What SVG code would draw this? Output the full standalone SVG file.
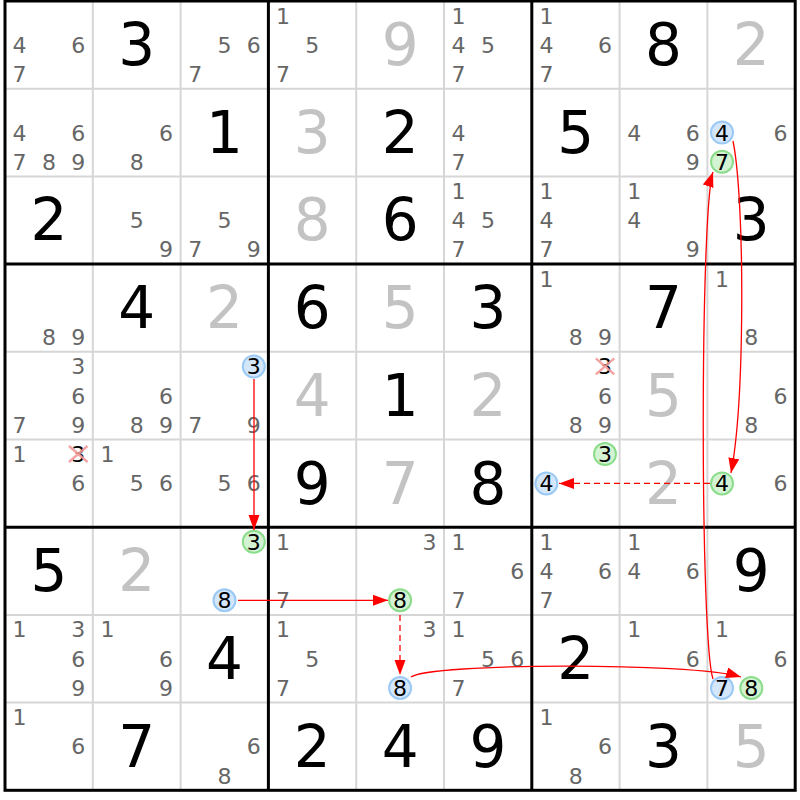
<svg xmlns="http://www.w3.org/2000/svg" width="800" height="800" viewBox="0 0 800 800">
<defs>
<style>
text{font-family:"DejaVu Sans","Liberation Sans",sans-serif;text-anchor:middle}
.g{font-size:58px;fill:#000}
.s{font-size:58px;fill:#c3c3c3}
.c{font-size:22px;fill:#666}
.k{font-size:22px;fill:#000}
.thin{stroke:#d6d6d6;stroke-width:2}
.thick{stroke:#000;stroke-width:3}
.hb{fill:#d4e6fa;stroke:#9ac9f5;stroke-width:2}
.hg{fill:#d3f3d3;stroke:#8bdc8b;stroke-width:2}
.x{stroke:#f29a9a;stroke-width:2.4;opacity:0.9}
.a{fill:none;stroke:#ff0000;stroke-width:1.3}
.d{stroke-dasharray:6,4}
</style>
<marker id="ah" markerUnits="userSpaceOnUse" markerWidth="16" markerHeight="12" refX="15" refY="5.5" orient="auto">
<path d="M0,0 L15,5.5 L0,11 z" fill="#ff0000"/>
</marker>
</defs>
<rect x="0" y="0" width="800" height="800" fill="#fff"/>
<g id="grid">
<g class="thin">
<line x1="92.8" y1="1" x2="92.8" y2="790.3"/><line x1="180.6" y1="1" x2="180.6" y2="790.3"/>
<line x1="356.2" y1="1" x2="356.2" y2="790.3"/><line x1="444" y1="1" x2="444" y2="790.3"/>
<line x1="619.6" y1="1" x2="619.6" y2="790.3"/><line x1="707.4" y1="1" x2="707.4" y2="790.3"/>
<line x1="5" y1="88.7" x2="795.2" y2="88.7"/><line x1="5" y1="176.4" x2="795.2" y2="176.4"/>
<line x1="5" y1="351.8" x2="795.2" y2="351.8"/><line x1="5" y1="439.5" x2="795.2" y2="439.5"/>
<line x1="5" y1="614.9" x2="795.2" y2="614.9"/><line x1="5" y1="702.6" x2="795.2" y2="702.6"/>
</g>
<g class="thick">
<line x1="268.4" y1="1" x2="268.4" y2="790.3"/><line x1="531.8" y1="1" x2="531.8" y2="790.3"/>
<line x1="5" y1="264.1" x2="795.2" y2="264.1"/><line x1="5" y1="527.2" x2="795.2" y2="527.2"/>
<rect x="5" y="1" width="790.2" height="789.3" fill="none"/>
</g>
</g>
<g id="cells">
<g id="r0c0" transform="translate(5,1)"><text class="c" x="14.6" y="51.9">4</text><text class="c" x="73.2" y="51.9">6</text><text class="c" x="14.6" y="81.1">7</text></g>
<g id="r0c1" transform="translate(92.8,1)"><text class="g" x="43.9" y="64">3</text></g>
<g id="r0c2" transform="translate(180.6,1)"><text class="c" x="43.9" y="51.9">5</text><text class="c" x="73.2" y="51.9">6</text><text class="c" x="14.6" y="81.1">7</text></g>
<g id="r0c3" transform="translate(268.4,1)"><text class="c" x="14.6" y="22.6">1</text><text class="c" x="43.9" y="51.9">5</text><text class="c" x="14.6" y="81.1">7</text></g>
<g id="r0c4" transform="translate(356.2,1)"><text class="s" x="43.9" y="64">9</text></g>
<g id="r0c5" transform="translate(444,1)"><text class="c" x="14.6" y="22.6">1</text><text class="c" x="14.6" y="51.9">4</text><text class="c" x="43.9" y="51.9">5</text><text class="c" x="14.6" y="81.1">7</text></g>
<g id="r0c6" transform="translate(531.8,1)"><text class="c" x="14.6" y="22.6">1</text><text class="c" x="14.6" y="51.9">4</text><text class="c" x="73.2" y="51.9">6</text><text class="c" x="14.6" y="81.1">7</text></g>
<g id="r0c7" transform="translate(619.6,1)"><text class="g" x="43.9" y="64">8</text></g>
<g id="r0c8" transform="translate(707.4,1)"><text class="s" x="43.9" y="64">2</text></g>

<g id="r1c0" transform="translate(5,88.7)"><text class="c" x="14.6" y="51.9">4</text><text class="c" x="73.2" y="51.9">6</text><text class="c" x="14.6" y="81.1">7</text><text class="c" x="43.9" y="81.1">8</text><text class="c" x="73.2" y="81.1">9</text></g>
<g id="r1c1" transform="translate(92.8,88.7)"><text class="c" x="73.2" y="51.9">6</text><text class="c" x="43.9" y="81.1">8</text></g>
<g id="r1c2" transform="translate(180.6,88.7)"><text class="g" x="43.9" y="64">1</text></g>
<g id="r1c3" transform="translate(268.4,88.7)"><text class="s" x="43.9" y="64">3</text></g>
<g id="r1c4" transform="translate(356.2,88.7)"><text class="g" x="43.9" y="64">2</text></g>
<g id="r1c5" transform="translate(444,88.7)"><text class="c" x="14.6" y="51.9">4</text><text class="c" x="14.6" y="81.1">7</text></g>
<g id="r1c6" transform="translate(531.8,88.7)"><text class="g" x="43.9" y="64">5</text></g>
<g id="r1c7" transform="translate(619.6,88.7)"><text class="c" x="14.6" y="51.9">4</text><text class="c" x="73.2" y="51.9">6</text><text class="c" x="73.2" y="81.1">9</text></g>
<g id="r1c8" transform="translate(707.4,88.7)"><circle class="hb" cx="14.6" cy="43.9" r="11"/><text class="k" x="14.6" y="51.9">4</text><text class="c" x="73.2" y="51.9">6</text><circle class="hg" cx="14.6" cy="73.1" r="11"/><text class="k" x="14.6" y="81.1">7</text></g>

<g id="r2c0" transform="translate(5,176.4)"><text class="g" x="43.9" y="64">2</text></g>
<g id="r2c1" transform="translate(92.8,176.4)"><text class="c" x="43.9" y="51.9">5</text><text class="c" x="73.2" y="81.1">9</text></g>
<g id="r2c2" transform="translate(180.6,176.4)"><text class="c" x="43.9" y="51.9">5</text><text class="c" x="14.6" y="81.1">7</text><text class="c" x="73.2" y="81.1">9</text></g>
<g id="r2c3" transform="translate(268.4,176.4)"><text class="s" x="43.9" y="64">8</text></g>
<g id="r2c4" transform="translate(356.2,176.4)"><text class="g" x="43.9" y="64">6</text></g>
<g id="r2c5" transform="translate(444,176.4)"><text class="c" x="14.6" y="22.6">1</text><text class="c" x="14.6" y="51.9">4</text><text class="c" x="43.9" y="51.9">5</text><text class="c" x="14.6" y="81.1">7</text></g>
<g id="r2c6" transform="translate(531.8,176.4)"><text class="c" x="14.6" y="22.6">1</text><text class="c" x="14.6" y="51.9">4</text><text class="c" x="14.6" y="81.1">7</text></g>
<g id="r2c7" transform="translate(619.6,176.4)"><text class="c" x="14.6" y="22.6">1</text><text class="c" x="14.6" y="51.9">4</text><text class="c" x="73.2" y="81.1">9</text></g>
<g id="r2c8" transform="translate(707.4,176.4)"><text class="g" x="43.9" y="64">3</text></g>

<g id="r3c0" transform="translate(5,264.1)"><text class="c" x="43.9" y="81.1">8</text><text class="c" x="73.2" y="81.1">9</text></g>
<g id="r3c1" transform="translate(92.8,264.1)"><text class="g" x="43.9" y="64">4</text></g>
<g id="r3c2" transform="translate(180.6,264.1)"><text class="s" x="43.9" y="64">2</text></g>
<g id="r3c3" transform="translate(268.4,264.1)"><text class="g" x="43.9" y="64">6</text></g>
<g id="r3c4" transform="translate(356.2,264.1)"><text class="s" x="43.9" y="64">5</text></g>
<g id="r3c5" transform="translate(444,264.1)"><text class="g" x="43.9" y="64">3</text></g>
<g id="r3c6" transform="translate(531.8,264.1)"><text class="c" x="14.6" y="22.6">1</text><text class="c" x="43.9" y="81.1">8</text><text class="c" x="73.2" y="81.1">9</text></g>
<g id="r3c7" transform="translate(619.6,264.1)"><text class="g" x="43.9" y="64">7</text></g>
<g id="r3c8" transform="translate(707.4,264.1)"><text class="c" x="14.6" y="22.6">1</text><text class="c" x="43.9" y="81.1">8</text></g>

<g id="r4c0" transform="translate(5,351.8)"><text class="c" x="73.2" y="22.6">3</text><text class="c" x="73.2" y="51.9">6</text><text class="c" x="14.6" y="81.1">7</text><text class="c" x="73.2" y="81.1">9</text></g>
<g id="r4c1" transform="translate(92.8,351.8)"><text class="c" x="73.2" y="51.9">6</text><text class="c" x="43.9" y="81.1">8</text><text class="c" x="73.2" y="81.1">9</text></g>
<g id="r4c2" transform="translate(180.6,351.8)"><circle class="hb" cx="73.2" cy="14.6" r="11"/><text class="k" x="73.2" y="22.6">3</text><text class="c" x="14.6" y="81.1">7</text><text class="c" x="73.2" y="81.1">9</text></g>
<g id="r4c3" transform="translate(268.4,351.8)"><text class="s" x="43.9" y="64">4</text></g>
<g id="r4c4" transform="translate(356.2,351.8)"><text class="g" x="43.9" y="64">1</text></g>
<g id="r4c5" transform="translate(444,351.8)"><text class="s" x="43.9" y="64">2</text></g>
<g id="r4c6" transform="translate(531.8,351.8)"><text class="k" x="73.2" y="22.6">3</text><path class="x" d="M64,6.5 L82.5,22.5 M64,22.5 L82.5,6.5"/><text class="c" x="73.2" y="51.9">6</text><text class="c" x="43.9" y="81.1">8</text><text class="c" x="73.2" y="81.1">9</text></g>
<g id="r4c7" transform="translate(619.6,351.8)"><text class="s" x="43.9" y="64">5</text></g>
<g id="r4c8" transform="translate(707.4,351.8)"><text class="c" x="73.2" y="51.9">6</text><text class="c" x="43.9" y="81.1">8</text></g>

<g id="r5c0" transform="translate(5,439.5)"><text class="c" x="14.6" y="22.6">1</text><text class="k" x="73.2" y="22.6">3</text><path class="x" d="M64,6.5 L82.5,22.5 M64,22.5 L82.5,6.5"/><text class="c" x="73.2" y="51.9">6</text></g>
<g id="r5c1" transform="translate(92.8,439.5)"><text class="c" x="14.6" y="22.6">1</text><text class="c" x="43.9" y="51.9">5</text><text class="c" x="73.2" y="51.9">6</text></g>
<g id="r5c2" transform="translate(180.6,439.5)"><text class="c" x="43.9" y="51.9">5</text><text class="c" x="73.2" y="51.9">6</text></g>
<g id="r5c3" transform="translate(268.4,439.5)"><text class="g" x="43.9" y="64">9</text></g>
<g id="r5c4" transform="translate(356.2,439.5)"><text class="s" x="43.9" y="64">7</text></g>
<g id="r5c5" transform="translate(444,439.5)"><text class="g" x="43.9" y="64">8</text></g>
<g id="r5c6" transform="translate(531.8,439.5)"><circle class="hg" cx="73.2" cy="14.6" r="11"/><text class="k" x="73.2" y="22.6">3</text><circle class="hb" cx="14.6" cy="43.9" r="11"/><text class="k" x="14.6" y="51.9">4</text></g>
<g id="r5c7" transform="translate(619.6,439.5)"><text class="s" x="43.9" y="64">2</text></g>
<g id="r5c8" transform="translate(707.4,439.5)"><circle class="hg" cx="14.6" cy="43.9" r="11"/><text class="k" x="14.6" y="51.9">4</text><text class="c" x="73.2" y="51.9">6</text></g>

<g id="r6c0" transform="translate(5,527.2)"><text class="g" x="43.9" y="64">5</text></g>
<g id="r6c1" transform="translate(92.8,527.2)"><text class="s" x="43.9" y="64">2</text></g>
<g id="r6c2" transform="translate(180.6,527.2)"><circle class="hg" cx="73.2" cy="14.6" r="11"/><text class="k" x="73.2" y="22.6">3</text><circle class="hb" cx="43.9" cy="73.1" r="11"/><text class="k" x="43.9" y="81.1">8</text></g>
<g id="r6c3" transform="translate(268.4,527.2)"><text class="c" x="14.6" y="22.6">1</text><text class="c" x="14.6" y="81.1">7</text></g>
<g id="r6c4" transform="translate(356.2,527.2)"><text class="c" x="73.2" y="22.6">3</text><circle class="hg" cx="43.9" cy="73.1" r="11"/><text class="k" x="43.9" y="81.1">8</text></g>
<g id="r6c5" transform="translate(444,527.2)"><text class="c" x="14.6" y="22.6">1</text><text class="c" x="73.2" y="51.9">6</text><text class="c" x="14.6" y="81.1">7</text></g>
<g id="r6c6" transform="translate(531.8,527.2)"><text class="c" x="14.6" y="22.6">1</text><text class="c" x="14.6" y="51.9">4</text><text class="c" x="73.2" y="51.9">6</text><text class="c" x="14.6" y="81.1">7</text></g>
<g id="r6c7" transform="translate(619.6,527.2)"><text class="c" x="14.6" y="22.6">1</text><text class="c" x="14.6" y="51.9">4</text><text class="c" x="73.2" y="51.9">6</text></g>
<g id="r6c8" transform="translate(707.4,527.2)"><text class="g" x="43.9" y="64">9</text></g>

<g id="r7c0" transform="translate(5,614.9)"><text class="c" x="14.6" y="22.6">1</text><text class="c" x="73.2" y="22.6">3</text><text class="c" x="73.2" y="51.9">6</text><text class="c" x="73.2" y="81.1">9</text></g>
<g id="r7c1" transform="translate(92.8,614.9)"><text class="c" x="14.6" y="22.6">1</text><text class="c" x="73.2" y="51.9">6</text><text class="c" x="73.2" y="81.1">9</text></g>
<g id="r7c2" transform="translate(180.6,614.9)"><text class="g" x="43.9" y="64">4</text></g>
<g id="r7c3" transform="translate(268.4,614.9)"><text class="c" x="14.6" y="22.6">1</text><text class="c" x="43.9" y="51.9">5</text><text class="c" x="14.6" y="81.1">7</text></g>
<g id="r7c4" transform="translate(356.2,614.9)"><text class="c" x="73.2" y="22.6">3</text><circle class="hb" cx="43.9" cy="73.1" r="11"/><text class="k" x="43.9" y="81.1">8</text></g>
<g id="r7c5" transform="translate(444,614.9)"><text class="c" x="14.6" y="22.6">1</text><text class="c" x="43.9" y="51.9">5</text><text class="c" x="73.2" y="51.9">6</text><text class="c" x="14.6" y="81.1">7</text></g>
<g id="r7c6" transform="translate(531.8,614.9)"><text class="g" x="43.9" y="64">2</text></g>
<g id="r7c7" transform="translate(619.6,614.9)"><text class="c" x="14.6" y="22.6">1</text><text class="c" x="73.2" y="51.9">6</text></g>
<g id="r7c8" transform="translate(707.4,614.9)"><text class="c" x="14.6" y="22.6">1</text><text class="c" x="73.2" y="51.9">6</text><circle class="hb" cx="14.6" cy="73.1" r="11"/><text class="k" x="14.6" y="81.1">7</text><circle class="hg" cx="43.9" cy="73.1" r="11"/><text class="k" x="43.9" y="81.1">8</text></g>

<g id="r8c0" transform="translate(5,702.6)"><text class="c" x="14.6" y="22.6">1</text><text class="c" x="73.2" y="51.9">6</text></g>
<g id="r8c1" transform="translate(92.8,702.6)"><text class="g" x="43.9" y="64">7</text></g>
<g id="r8c2" transform="translate(180.6,702.6)"><text class="c" x="73.2" y="51.9">6</text><text class="c" x="43.9" y="81.1">8</text></g>
<g id="r8c3" transform="translate(268.4,702.6)"><text class="g" x="43.9" y="64">2</text></g>
<g id="r8c4" transform="translate(356.2,702.6)"><text class="g" x="43.9" y="64">4</text></g>
<g id="r8c5" transform="translate(444,702.6)"><text class="g" x="43.9" y="64">9</text></g>
<g id="r8c6" transform="translate(531.8,702.6)"><text class="c" x="14.6" y="22.6">1</text><text class="c" x="73.2" y="51.9">6</text><text class="c" x="43.9" y="81.1">8</text></g>
<g id="r8c7" transform="translate(619.6,702.6)"><text class="g" x="43.9" y="64">3</text></g>
<g id="r8c8" transform="translate(707.4,702.6)"><text class="s" x="43.9" y="64">5</text></g>
</g>
<g id="connectors">
<path class="a" d="M254,379 L254,530" marker-end="url(#ah)"/>
<path class="a" d="M238,600.3 L388,600.3" marker-end="url(#ah)"/>
<path class="a d" d="M400,615 L400,675" marker-end="url(#ah)"/>
<path class="a" d="M411,677 C430,663 690,662 741,677" marker-end="url(#ah)"/>
<path class="a" d="M713,679 C700,640 700,210 713,172" marker-end="url(#ah)"/>
<path class="a" d="M733,141 C745,200 745,400 731,473" marker-end="url(#ah)"/>
<path class="a d" d="M710,483.4 L559,483.4" marker-end="url(#ah)"/>
</g>
</svg>
